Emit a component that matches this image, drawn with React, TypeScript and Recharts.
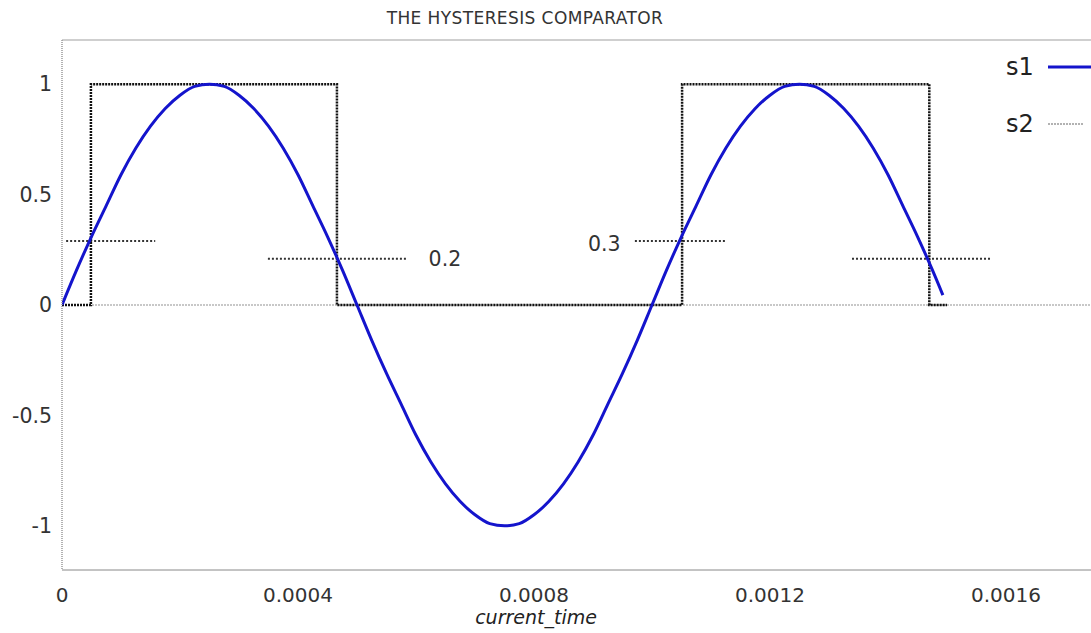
import { LineChart, Line, XAxis, YAxis, CartesianGrid, Legend, ReferenceDot } from 'recharts'

const FONT = '"DejaVu Sans", sans-serif'

// s1: the comparator input, every 0.000025 s
const s1Time = [
  0, 0.000025, 0.00005, 0.000075, 0.0001, 0.000125, 0.00015, 0.000175, 0.0002, 0.000225,
  0.00025, 0.000275, 0.0003, 0.000325, 0.00035, 0.000375, 0.0004, 0.000425, 0.00045, 0.000475,
  0.0005, 0.000525, 0.00055, 0.000575, 0.0006, 0.000625, 0.00065, 0.000675, 0.0007, 0.000725,
  0.00075, 0.000775, 0.0008, 0.000825, 0.00085, 0.000875, 0.0009, 0.000925, 0.00095, 0.000975,
  0.001, 0.001025, 0.00105, 0.001075, 0.0011, 0.001125, 0.00115, 0.001175, 0.0012, 0.001225,
  0.00125, 0.001275, 0.0013, 0.001325, 0.00135, 0.001375, 0.0014, 0.001425, 0.00145, 0.001475,
  0.001493,
]
const s1Value = [
  0, 0.16, 0.31, 0.45, 0.59, 0.71, 0.81, 0.89, 0.95, 0.99,
  1, 0.99, 0.95, 0.89, 0.81, 0.71, 0.59, 0.45, 0.31, 0.16,
  0, -0.16, -0.31, -0.45, -0.59, -0.71, -0.81, -0.89, -0.95, -0.99,
  -1, -0.99, -0.95, -0.89, -0.81, -0.71, -0.59, -0.45, -0.31, -0.16,
  0, 0.16, 0.31, 0.45, 0.59, 0.71, 0.81, 0.89, 0.95, 0.99,
  1, 0.99, 0.95, 0.89, 0.81, 0.71, 0.59, 0.45, 0.31, 0.16,
  0.045,
]

// s2: comparator output, one entry per switching instant (step after)
const s2Time = [0, 0.000049, 0.000466, 0.001051, 0.00147, 0.0015]
const s2Value = [0, 1, 0, 1, 0, 0]

// dotted threshold markers around each crossing
const markStart = [0.000007, 0.000349, 0.000971, 0.001339]
const markEnd = [0.000158, 0.000586, 0.001124, 0.001576]
const markLevel = [0.29, 0.21, 0.29, 0.21]

const noteText = ['0.2', '0.3']
const noteTime = [0.000649, 0.000919]
const noteLevel = [0.208, 0.276]

const xTicks = [0, 0.0004, 0.0008, 0.0012, 0.0016]
const xMinorTicks = [0.0002, 0.0004, 0.0006, 0.0008, 0.001, 0.0012, 0.0014, 0.0016]
const yTicks = [-1, -0.5, 0, 0.5, 1]
const X_DOMAIN: [number, number] = [0, 0.00175]
const Y_DOMAIN: [number, number] = [-1.2, 1.2]

const s1Data = s1Time.map((t, i) => ({ t, v: s1Value[i] }))
const s2Data = s2Time.map((t, i) => ({ t, v: s2Value[i] }))
const markData = markStart.map((t0, i) => [
  { t: t0, v: markLevel[i] },
  { t: markEnd[i], v: markLevel[i] },
])

const legendLook: Record<string, { color: string; width: number; dash?: string }> = {
  s1: { color: '#1414cc', width: 3 },
  s2: { color: '#666', width: 1.2, dash: '2 1' },
}

function renderLegend(props: any) {
  const items = (props.payload || []).filter((p: any) => legendLook[p.value])
  return (
    <div style={{ position: 'relative', width: 100, height: 120 }}>
      {items.map((p: any, i: number) => {
        const look = legendLook[p.value]
        return (
          <div
            key={p.value}
            style={{ position: 'absolute', left: 6, top: i * 57, height: 34, display: 'flex', alignItems: 'center' }}
          >
            <span style={{ fontFamily: FONT, fontSize: 24, color: '#222', width: 42 }}>{p.value}</span>
            <svg width={44} height={6}>
              <line x1={0} x2={i === 0 ? 44 : 36} y1={3} y2={3} stroke={look.color} strokeWidth={look.width} strokeDasharray={look.dash} />
            </svg>
          </div>
        )
      })}
    </div>
  )
}

export default function App() {
  return (
    <div style={{ position: 'fixed', left: 0, top: 0, width: 1091, height: 633, overflow: 'hidden', background: '#fff' }}>
      <div
        style={{ position: 'absolute', top: 9, left: 0, width: 1050, textAlign: 'center', fontFamily: FONT, fontSize: 17, lineHeight: '18px', letterSpacing: 0.4, color: '#333' }}
      >
        THE HYSTERESIS COMPARATOR
      </div>
      <LineChart width={1100} height={633} margin={{ top: 40, right: 5.5, bottom: 0, left: 0 }}>
        {/* inward tick marks on the frame */}
        <XAxis xAxisId="bm" dataKey="t" type="number" orientation="bottom" mirror height={1} domain={X_DOMAIN} allowDataOverflow ticks={xMinorTicks} interval={0} tick={false} axisLine={false} tickSize={5} tickLine={{ stroke: '#888' }} />
        <XAxis xAxisId="tm" dataKey="t" type="number" orientation="top" mirror height={1} domain={X_DOMAIN} allowDataOverflow ticks={xMinorTicks} interval={0} tick={false} axisLine={{ stroke: '#cfcfcf', strokeWidth: 2 }} tickSize={6} tickLine={{ stroke: '#888' }} />
        <YAxis yAxisId="lm" type="number" orientation="left" mirror width={1} domain={Y_DOMAIN} allowDataOverflow ticks={yTicks} interval={0} tick={false} axisLine={false} tickSize={5} tickLine={{ stroke: '#888' }} />
        <YAxis yAxisId="rm" type="number" orientation="right" mirror width={1} domain={Y_DOMAIN} allowDataOverflow ticks={yTicks} interval={0} tick={false} axisLine={false} tickSize={12} tickLine={{ stroke: '#999' }} />

        <XAxis
          dataKey="t"
          type="number"
          domain={X_DOMAIN}
          allowDataOverflow
          ticks={xTicks}
          interval={0}
          height={63}
          tickLine={false}
          tickSize={6}
          tickMargin={12}
          axisLine={{ stroke: '#888' }}
          tick={{ fill: '#333', fontSize: 20, fontFamily: FONT }}
          label={{
            content: ({ viewBox }: any) => (
              <text x={viewBox.x + 474} y={viewBox.y + 54} textAnchor="middle" fontFamily={FONT} fontSize={19} fontStyle="italic" fill="#222">
                current_time
              </text>
            ),
          }}
        />
        <YAxis
          type="number"
          domain={Y_DOMAIN}
          allowDataOverflow
          ticks={yTicks}
          interval={0}
          width={62}
          tickLine={false}
          tickSize={4}
          tickMargin={6}
          axisLine={{ stroke: '#999', strokeDasharray: '1 1', strokeWidth: 1.5 }}
          tick={{ fill: '#333', fontSize: 20.5, fontFamily: FONT }}
        />
        <CartesianGrid vertical={false} horizontalValues={[0]} stroke="#c8c8c8" strokeDasharray="2 1" strokeWidth={2} />

        {markData.map((d, i) => (
          <Line key={i} data={d} dataKey="v" type="linear" stroke="#333" strokeWidth={2} strokeDasharray="2 2" dot={false} legendType="none" isAnimationActive={false} />
        ))}
        <Line data={s2Data} dataKey="v" name="s2" type="stepAfter" stroke="#111" strokeWidth={2.5} strokeDasharray="2 1" dot={false} isAnimationActive={false} />
        <Line data={s1Data} dataKey="v" name="s1" type="monotone" stroke="#1414cc" strokeWidth={3} dot={false} isAnimationActive={false} />

        {noteText.map((txt, i) => (
          <ReferenceDot
            key={txt}
            x={noteTime[i]}
            y={noteLevel[i]}
            r={0}
            fill="none"
            stroke="none"
            label={{ value: txt, position: 'center', fill: '#333', fontSize: 20.5, fontFamily: FONT }}
          />
        ))}

        <Legend layout="vertical" align="center" verticalAlign="middle" wrapperStyle={{ left: 1000, top: 50, width: 100 }} content={renderLegend} />
      </LineChart>
    </div>
  )
}
